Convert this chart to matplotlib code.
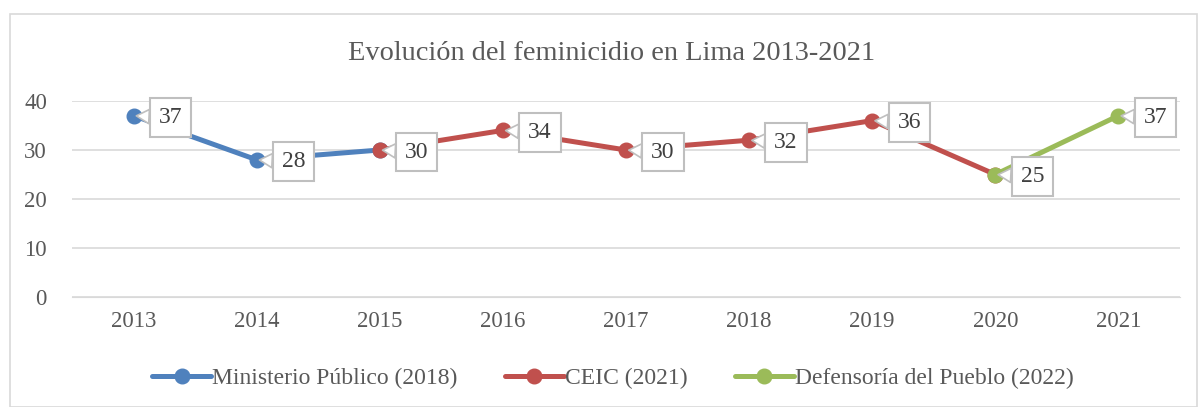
import matplotlib
matplotlib.use("Agg")
import matplotlib.pyplot as plt
from matplotlib.patches import Rectangle

years = ["2013", "2014", "2015", "2016", "2017", "2018", "2019", "2020", "2021"]
mp_years = ["2013", "2014", "2015"]
mp_vals = [37, 28, 30]
ceic_years = ["2015", "2016", "2017", "2018", "2019", "2020"]
ceic_vals = [30, 34, 30, 32, 36, 25]
dp_years = ["2020", "2021"]
dp_vals = [25, 37]
yticks = [0, 10, 20, 30, 40]

plt.rcParams['font.family'] = ['Liberation Serif', 'DejaVu Serif']
txt = '#595959'
grid = '#D9D9D9'

fig = plt.figure(figsize=(11.98, 4.07), dpi=100)
fig.patches.append(Rectangle((10/1198, 0), 1 - 10/1198 - 0.001, 1 - 14/407, transform=fig.transFigure,
                             fill=False, edgecolor=grid, linewidth=1.2))
ax = fig.add_axes([72/1198, 1 - 297/407, (1180 - 72)/1198, (297 - 101)/407])

idx = {y: i for i, y in enumerate(years)}
series = [
    (mp_years, mp_vals, '#4F81BD', 'Ministerio Público (2018)'),
    (ceic_years, ceic_vals, '#C0504D', 'CEIC (2021)'),
    (dp_years, dp_vals, '#9BBB59', 'Defensoría del Pueblo (2022)'),
]
drawn = set()
for yrs, vals, col, lab in series:
    xs = [idx[y] for y in yrs]
    ax.plot(xs, vals, color=col, lw=3.6, marker='o', markersize=10.5, label=lab, zorder=3,
            solid_capstyle='round')
for yrs, vals, col, lab in series:
    for y, v in zip(yrs, vals):
        if (y, v) in drawn:
            continue
        drawn.add((y, v))
        ax.annotate(str(v), xy=(idx[y], v), xytext=(37, -2), textcoords='offset pixels',
                    ha='center', va='center', fontsize=17, color='#404040', zorder=5,
                    bbox=dict(boxstyle='square,pad=0.38', fc='white', ec='#BFBFBF', lw=1.5),
                    arrowprops=dict(arrowstyle='wedge,tail_width=0.6', fc='white', ec='#BFBFBF', lw=1.2,
                                    shrinkA=0, shrinkB=2))

ax.set_xlim(-0.5, len(years) - 0.5)
ax.set_ylim(0, 40)
ax.set_xticks(range(len(years)))
ax.set_xticklabels(years)
ax.set_yticks(yticks)
ax.tick_params(axis='both', length=0, labelsize=16.5, colors=txt)
ax.tick_params(axis='x', pad=10)
ax.tick_params(axis='y', pad=18)
for s in ['top', 'right', 'left']:
    ax.spines[s].set_visible(False)
ax.spines['bottom'].set_color(grid)
ax.grid(axis='y', color=grid, lw=1.2)
ax.set_axisbelow(True)

fig.text(612/1198, 1 - 53/407, 'Evolución del feminicidio en Lima 2013-2021', ha='center', va='center',
         fontsize=20.4, color=txt)

leg = fig.legend(loc='center', bbox_to_anchor=(613/1198, 1 - 378/407), ncol=3, frameon=False,
                 fontsize=17, labelcolor=txt, handlelength=2.5, handletextpad=0.05, columnspacing=2.0)

fig.savefig('out.png', dpi=100)
